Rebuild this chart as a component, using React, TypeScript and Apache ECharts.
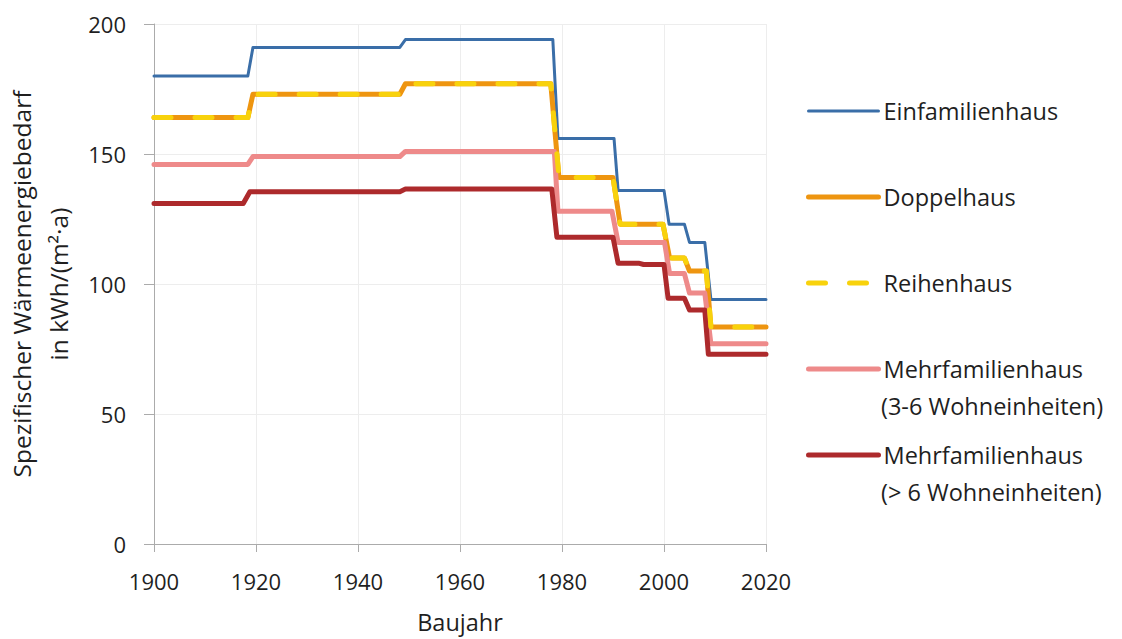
import React, { useEffect, useRef } from "react";
import * as echarts from "echarts";

const seriesNames = [
  "Einfamilienhaus",
  "Doppelhaus",
  "Reihenhaus",
  "Mehrfamilienhaus (3-6 Wohneinheiten)",
  "Mehrfamilienhaus (> 6 Wohneinheiten)",
];

const einfamilienhaus: [number, number][] = [
  [1900, 180], [1918.4, 180], [1919.4, 191], [1948.2, 191], [1949.3, 194],
  [1978.2, 194], [1979.2, 156], [1990.2, 156], [1991, 136], [2000, 136],
  [2001, 123], [2004, 123], [2005, 116], [2008, 116], [2009.2, 94], [2020, 94],
];

const doppelhaus: [number, number][] = [
  [1900, 164], [1918.4, 164], [1919.4, 173], [1948.2, 173], [1949.3, 177],
  [1977.8, 177], [1979.4, 141], [1990, 141], [1991.4, 123], [1999.8, 123],
  [2001.1, 110], [2004, 110], [2005, 105], [2008.3, 105], [2009.2, 83.5], [2020, 83.5],
];

const reihenhaus: [number, number][] = [
  [1900, 164], [1918.4, 164], [1919.4, 173], [1948.2, 173], [1949.3, 177],
  [1977.8, 177], [1979.4, 141], [1990, 141], [1991.4, 123], [1999.8, 123],
  [2001.1, 110], [2004, 110], [2005, 105], [2008.3, 105], [2009.2, 83.5], [2020, 83.5],
];

const mfhKlein: [number, number][] = [
  [1900, 146], [1918.4, 146], [1919.4, 149], [1948.2, 149], [1949.3, 151],
  [1978.5, 151], [1979.2, 128], [1989.8, 128], [1991, 116], [2000.1, 116],
  [2001.1, 104], [2004, 104], [2005, 96.5], [2008, 96.5], [2009.2, 77], [2020, 77],
];

const mfhGross: [number, number][] = [
  [1900, 131], [1917.5, 131], [1918.8, 135.5], [1948.2, 135.5], [1949.3, 136.5],
  [1978, 136.5], [1979, 118], [1990, 118], [1991, 108], [1995, 108], [1996, 107.5],
  [2000, 107.5], [2000.8, 94.5], [2004, 94.5], [2005, 90], [2008, 90], [2008.7, 73], [2020, 73],
];

const legendSecondLines = ["(3-6 Wohneinheiten)", "(> 6 Wohneinheiten)"];

const xTicks = { min: 1900, max: 2020, interval: 20 };
const yTicks = { min: 0, max: 200, interval: 50 };

const FONT = "'Open Sans', 'Noto Sans', sans-serif";
const TEXT = "#1f1f1f";
const BIG = 23.5;

export default function App() {
  const ref = useRef<HTMLDivElement>(null);
  useEffect(() => {
    document.body.style.margin = "0";
    if (!ref.current) return;
    const chart = echarts.init(ref.current, undefined, { renderer: "svg" });
    const colors = ["#3A6EA8", "#EE9510", "#F8D20C", "#EE8A8A", "#AD2A2C"];
    const widths = [3, 5, 5, 5, 5];
    const datas = [einfamilienhaus, doppelhaus, reihenhaus, mfhKlein, mfhGross];
    chart.setOption({
      animation: false,
      textStyle: { fontFamily: FONT },
      grid: {
        left: 154,
        right: 356,
        top: 24,
        bottom: 95,
        containLabel: false,
        outerBoundsMode: "none",
      },
      legend: {
        orient: "vertical",
        left: 806,
        top: 93,
        padding: 0,
        itemWidth: 70,
        itemHeight: 14,
        itemGap: 50,
        selectedMode: false,
        itemStyle: { opacity: 0 },
        formatter: (name: string) =>
          name.startsWith("Mehrfamilienhaus") ? "Mehrfamilienhaus" : name,
        textStyle: {
          fontFamily: FONT,
          fontSize: BIG,
          lineHeight: 36,
          color: TEXT,
        },
        data: seriesNames.map((n, i) => ({
          name: n,
          lineStyle: { width: widths[i] },
        })),
      },
      graphic: legendSecondLines.map((t, i) => ({
        type: "text",
        x: 881,
        y: 406 + i * 86,
        silent: true,
        style: {
          text: t,
          fontSize: BIG,
          fontFamily: FONT,
          fill: TEXT,
          align: "left",
          verticalAlign: "middle",
        },
      })),
      xAxis: {
        type: "value",
        min: xTicks.min,
        max: xTicks.max,
        interval: xTicks.interval,
        name: "Baujahr",
        nameLocation: "middle",
        nameGap: 66,
        nameTextStyle: { fontSize: BIG, lineHeight: 24, color: TEXT, fontFamily: FONT },
        axisLine: { lineStyle: { color: "#ABABAB", width: 1 } },
        axisTick: { show: true, length: 8, lineStyle: { color: "#ABABAB" } },
        axisLabel: {
          fontSize: 22,
          color: TEXT,
          margin: 26,
          fontFamily: FONT,
          formatter: (v: number) => String(v),
        },
        splitLine: { show: true, lineStyle: { color: "#EDEDED", width: 1 } },
      },
      yAxis: {
        type: "value",
        min: yTicks.min,
        max: yTicks.max,
        interval: yTicks.interval,
        name: "Spezifischer Wärmeenergiebedarf\nin kWh/(m²·a)",
        nameLocation: "middle",
        nameRotate: 90,
        nameGap: 77,
        nameTextStyle: { fontSize: 24.5, lineHeight: 37, color: TEXT, fontFamily: FONT },
        axisLine: { show: true, lineStyle: { color: "#ABABAB", width: 1 } },
        axisTick: { show: true, length: 10, lineStyle: { color: "#ABABAB" } },
        axisLabel: {
          fontSize: 22,
          color: TEXT,
          margin: 28,
          fontFamily: FONT,
          formatter: (v: number) => String(v),
        },
        splitLine: { show: true, lineStyle: { color: "#EDEDED", width: 1 } },
      },
      series: seriesNames.map((n, i) => ({
        name: n,
        type: "line",
        data: datas[i],
        symbol: "none",
        showSymbol: false,
        z: i === 2 ? 4 : 2,
        lineStyle: {
          color: colors[i],
          width: widths[i],
          type: i === 2 ? [17, 24] : "solid",
          cap: "round",
          join: "round",
        },
        itemStyle: { color: colors[i] },
      })),
    });
    return () => chart.dispose();
  }, []);
  return <div ref={ref} style={{ width: 1122, height: 639 }} />;
}
